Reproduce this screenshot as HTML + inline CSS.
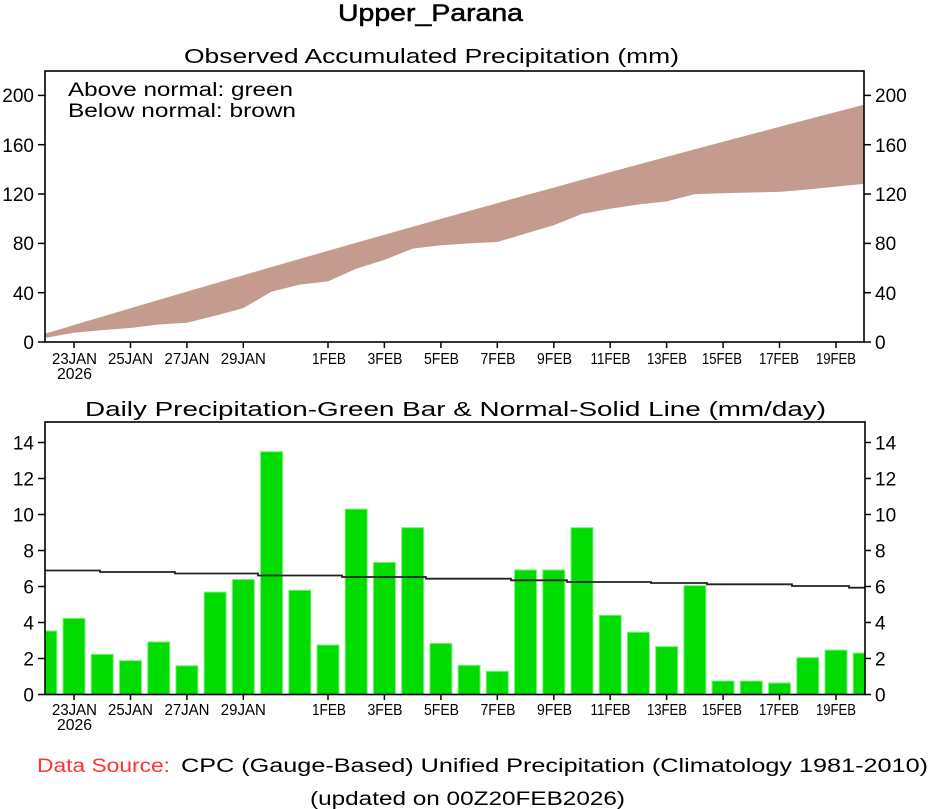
<!DOCTYPE html>
<html><head><meta charset="utf-8"><style>
html,body{margin:0;padding:0;background:#fff;}
svg{display:block;}
text{font-family:"Liberation Sans",sans-serif;fill:#000;}
</style></head><body>
<svg width="934" height="809" viewBox="0 0 934 809" xmlns="http://www.w3.org/2000/svg">
<rect x="0" y="0" width="934" height="809" fill="#fff"/>
<!-- Titles -->
<text x="338" y="21" font-size="24" textLength="185" lengthAdjust="spacingAndGlyphs" stroke="#000" stroke-width="0.5">Upper_Parana</text>
<text x="184" y="63" font-size="20" textLength="495" lengthAdjust="spacingAndGlyphs">Observed Accumulated Precipitation (mm)</text>

<!-- Top chart band -->
<defs>
<clipPath id="c1"><rect x="45" y="71" width="819" height="271"/></clipPath>
<clipPath id="c2"><rect x="45" y="422" width="820" height="273"/></clipPath>
</defs>
<g clip-path="url(#c1)">
<polygon fill="#c59b90" points="45,334 45.8,333.5 74.02,325 102.24,316.6 130.46,308.3 158.68,299.9 186.9,291.6 215.12,283.4 243.34,275.2 271.56,267 299.78,258.9 328,250.8 356.22,242.7 384.44,234.7 412.66,226.8 440.88,218.9 469.1,211 497.32,203.1 525.54,195.3 553.76,187.6 581.98,179.8 610.2,172.1 638.42,164.5 666.64,156.9 694.86,149.3 723.08,141.8 751.3,134.3 779.52,126.8 807.74,119.4 835.96,112 864.18,104.7 866,104.5 866,183.8 864.18,183.9 835.96,186.6 807.74,189.5 779.52,191.9 751.3,192.5 723.08,193.3 694.86,194.1 666.64,201.4 638.42,204.5 610.2,208.7 581.98,213.9 553.76,225.2 525.54,233.6 497.32,242 469.1,243.4 440.88,245.3 412.66,248.6 384.44,259.9 356.22,268.8 328,281.4 299.78,284.6 271.56,291.6 243.34,308.1 215.12,315.8 186.9,322.7 158.68,324.5 130.46,328 102.24,330.1 74.02,332.7 45.8,337.8 45,338.2"/>
</g>
<rect x="45" y="71" width="819" height="271" fill="none" stroke="#000" stroke-width="1.6"/>
<text x="68" y="96" font-size="19" textLength="225" lengthAdjust="spacingAndGlyphs">Above normal: green</text>
<text x="68" y="117" font-size="19" textLength="228" lengthAdjust="spacingAndGlyphs">Below normal: brown</text>

<!-- top y ticks -->
<g stroke="#000" stroke-width="1.5">
<line x1="38" y1="342" x2="45" y2="342"/><line x1="38" y1="292.7" x2="45" y2="292.7"/><line x1="38" y1="243.4" x2="45" y2="243.4"/><line x1="38" y1="194" x2="45" y2="194"/><line x1="38" y1="144.7" x2="45" y2="144.7"/><line x1="38" y1="95.4" x2="45" y2="95.4"/>
<line x1="864" y1="342" x2="871" y2="342"/><line x1="864" y1="292.7" x2="871" y2="292.7"/><line x1="864" y1="243.4" x2="871" y2="243.4"/><line x1="864" y1="194" x2="871" y2="194"/><line x1="864" y1="144.7" x2="871" y2="144.7"/><line x1="864" y1="95.4" x2="871" y2="95.4"/>
</g>
<g font-size="19" text-anchor="end">
<text x="34" y="349">0</text><text x="34" y="300">40</text><text x="34" y="250">80</text><text x="34" y="201">120</text><text x="34" y="152">160</text><text x="34" y="102">200</text>
</g>
<g font-size="19">
<text x="875" y="349">0</text><text x="875" y="300">40</text><text x="875" y="250">80</text><text x="875" y="201">120</text><text x="875" y="152">160</text><text x="875" y="102">200</text>
</g>
<!-- top x ticks -->
<g stroke="#000" stroke-width="1.5">
<line x1="74" y1="342" x2="74" y2="348"/><line x1="130.5" y1="342" x2="130.5" y2="348"/><line x1="186.9" y1="342" x2="186.9" y2="348"/><line x1="243.3" y1="342" x2="243.3" y2="348"/>
<line x1="328" y1="342" x2="328" y2="348"/><line x1="384.4" y1="342" x2="384.4" y2="348"/><line x1="440.9" y1="342" x2="440.9" y2="348"/><line x1="497.3" y1="342" x2="497.3" y2="348"/><line x1="553.8" y1="342" x2="553.8" y2="348"/><line x1="610.2" y1="342" x2="610.2" y2="348"/><line x1="666.6" y1="342" x2="666.6" y2="348"/><line x1="723.1" y1="342" x2="723.1" y2="348"/><line x1="779.5" y1="342" x2="779.5" y2="348"/><line x1="836" y1="342" x2="836" y2="348"/>
</g>
<g font-size="16" text-anchor="middle">
<text x="74.5" y="364" textLength="45" lengthAdjust="spacingAndGlyphs">23JAN</text>
<text x="74.5" y="379" textLength="35" lengthAdjust="spacingAndGlyphs">2026</text>
<text x="130.5" y="364" textLength="45" lengthAdjust="spacingAndGlyphs">25JAN</text>
<text x="187" y="364" textLength="45" lengthAdjust="spacingAndGlyphs">27JAN</text>
<text x="243.3" y="364" textLength="45" lengthAdjust="spacingAndGlyphs">29JAN</text>
<text x="329" y="364" textLength="34" lengthAdjust="spacingAndGlyphs">1FEB</text>
<text x="385" y="364" textLength="35" lengthAdjust="spacingAndGlyphs">3FEB</text>
<text x="441.5" y="364" textLength="35" lengthAdjust="spacingAndGlyphs">5FEB</text>
<text x="498" y="364" textLength="35" lengthAdjust="spacingAndGlyphs">7FEB</text>
<text x="554.5" y="364" textLength="35" lengthAdjust="spacingAndGlyphs">9FEB</text>
<text x="610.5" y="364" textLength="40" lengthAdjust="spacingAndGlyphs">11FEB</text>
<text x="667" y="364" textLength="40" lengthAdjust="spacingAndGlyphs">13FEB</text>
<text x="722" y="364" textLength="40" lengthAdjust="spacingAndGlyphs">15FEB</text>
<text x="779" y="364" textLength="40" lengthAdjust="spacingAndGlyphs">17FEB</text>
<text x="836" y="364" textLength="40" lengthAdjust="spacingAndGlyphs">19FEB</text>
</g>

<!-- Bottom chart -->
<text x="85" y="416" font-size="20" textLength="741" lengthAdjust="spacingAndGlyphs">Daily Precipitation-Green Bar &amp; Normal-Solid Line (mm/day)</text>
<g clip-path="url(#c2)" fill="#00dc00" stroke="#7ef07e" stroke-width="1">
<rect x="34.8" y="630.96" width="22" height="64"/>
<rect x="63.02" y="618.36" width="22" height="77"/>
<rect x="91.24" y="654.36" width="22" height="41"/>
<rect x="119.46" y="660.66" width="22" height="35"/>
<rect x="147.68" y="641.94" width="22" height="53"/>
<rect x="175.9" y="665.7" width="22" height="30"/>
<rect x="204.12" y="592.08" width="22" height="103"/>
<rect x="232.34" y="579.48" width="22" height="116"/>
<rect x="260.56" y="451.68" width="22" height="244"/>
<rect x="288.78" y="590.28" width="22" height="105"/>
<rect x="317" y="645" width="22" height="50"/>
<rect x="345.22" y="509.1" width="22" height="186"/>
<rect x="373.44" y="562.38" width="22" height="133"/>
<rect x="401.66" y="527.64" width="22" height="168"/>
<rect x="429.88" y="643.38" width="22" height="52"/>
<rect x="458.1" y="665.34" width="22" height="30"/>
<rect x="486.32" y="671.28" width="22" height="24"/>
<rect x="514.54" y="569.94" width="22" height="125"/>
<rect x="542.76" y="569.94" width="22" height="125"/>
<rect x="570.98" y="527.64" width="22" height="168"/>
<rect x="599.2" y="615.3" width="22" height="80"/>
<rect x="627.42" y="632.22" width="22" height="63"/>
<rect x="655.64" y="646.62" width="22" height="49"/>
<rect x="683.86" y="585.6" width="22" height="110"/>
<rect x="712.08" y="681" width="22" height="14"/>
<rect x="740.3" y="681" width="22" height="14"/>
<rect x="768.52" y="682.98" width="22" height="12"/>
<rect x="796.74" y="657.6" width="22" height="38"/>
<rect x="824.96" y="650.04" width="22" height="45"/>
<rect x="853.18" y="653.1" width="22" height="42"/>
</g>
<polyline fill="none" stroke="#222" stroke-width="1.8" points="45,570.5 100,570.5 100,572 175,572 175,573.5 258,573.5 258,575.5 342,575.5 342,577 426,577 426,578.7 511,578.7 511,580.3 567,580.3 567,582 651,582 651,583 707,583 707,584.3 792,584.3 792,586 849,586 849,587.7 865,587.7"/>
<rect x="45" y="422" width="820" height="272.5" fill="none" stroke="#000" stroke-width="1.6"/>
<g stroke="#000" stroke-width="1.5">
<line x1="38" y1="694.5" x2="45" y2="694.5"/><line x1="38" y1="658.5" x2="45" y2="658.5"/><line x1="38" y1="622.5" x2="45" y2="622.5"/><line x1="38" y1="586.5" x2="45" y2="586.5"/><line x1="38" y1="550.5" x2="45" y2="550.5"/><line x1="38" y1="514.5" x2="45" y2="514.5"/><line x1="38" y1="478.5" x2="45" y2="478.5"/><line x1="38" y1="442.5" x2="45" y2="442.5"/>
<line x1="865" y1="694.5" x2="871" y2="694.5"/><line x1="865" y1="658.5" x2="871" y2="658.5"/><line x1="865" y1="622.5" x2="871" y2="622.5"/><line x1="865" y1="586.5" x2="871" y2="586.5"/><line x1="865" y1="550.5" x2="871" y2="550.5"/><line x1="865" y1="514.5" x2="871" y2="514.5"/><line x1="865" y1="478.5" x2="871" y2="478.5"/><line x1="865" y1="442.5" x2="871" y2="442.5"/>
</g>
<g font-size="19" text-anchor="end">
<text x="34" y="701.5">0</text><text x="34" y="665.5">2</text><text x="34" y="629.5">4</text><text x="34" y="593.5">6</text><text x="34" y="557.5">8</text><text x="34" y="521.5">10</text><text x="34" y="485.5">12</text><text x="34" y="449.5">14</text>
</g>
<g font-size="19">
<text x="875" y="701.5">0</text><text x="875" y="665.5">2</text><text x="875" y="629.5">4</text><text x="875" y="593.5">6</text><text x="875" y="557.5">8</text><text x="875" y="521.5">10</text><text x="875" y="485.5">12</text><text x="875" y="449.5">14</text>
</g>
<g stroke="#000" stroke-width="1.5">
<line x1="74" y1="694.5" x2="74" y2="700"/><line x1="130.5" y1="694.5" x2="130.5" y2="700"/><line x1="186.9" y1="694.5" x2="186.9" y2="700"/><line x1="243.3" y1="694.5" x2="243.3" y2="700"/>
<line x1="328" y1="694.5" x2="328" y2="700"/><line x1="384.4" y1="694.5" x2="384.4" y2="700"/><line x1="440.9" y1="694.5" x2="440.9" y2="700"/><line x1="497.3" y1="694.5" x2="497.3" y2="700"/><line x1="553.8" y1="694.5" x2="553.8" y2="700"/><line x1="610.2" y1="694.5" x2="610.2" y2="700"/><line x1="666.6" y1="694.5" x2="666.6" y2="700"/><line x1="723.1" y1="694.5" x2="723.1" y2="700"/><line x1="779.5" y1="694.5" x2="779.5" y2="700"/><line x1="836" y1="694.5" x2="836" y2="700"/>
</g>
<g font-size="16" text-anchor="middle">
<text x="74.5" y="715" textLength="45" lengthAdjust="spacingAndGlyphs">23JAN</text>
<text x="74.5" y="730" textLength="35" lengthAdjust="spacingAndGlyphs">2026</text>
<text x="130.5" y="715" textLength="45" lengthAdjust="spacingAndGlyphs">25JAN</text>
<text x="187" y="715" textLength="45" lengthAdjust="spacingAndGlyphs">27JAN</text>
<text x="243.3" y="715" textLength="45" lengthAdjust="spacingAndGlyphs">29JAN</text>
<text x="329" y="715" textLength="34" lengthAdjust="spacingAndGlyphs">1FEB</text>
<text x="385" y="715" textLength="35" lengthAdjust="spacingAndGlyphs">3FEB</text>
<text x="441.5" y="715" textLength="35" lengthAdjust="spacingAndGlyphs">5FEB</text>
<text x="498" y="715" textLength="35" lengthAdjust="spacingAndGlyphs">7FEB</text>
<text x="554.5" y="715" textLength="35" lengthAdjust="spacingAndGlyphs">9FEB</text>
<text x="610.5" y="715" textLength="40" lengthAdjust="spacingAndGlyphs">11FEB</text>
<text x="667" y="715" textLength="40" lengthAdjust="spacingAndGlyphs">13FEB</text>
<text x="722" y="715" textLength="40" lengthAdjust="spacingAndGlyphs">15FEB</text>
<text x="779" y="715" textLength="40" lengthAdjust="spacingAndGlyphs">17FEB</text>
<text x="836" y="715" textLength="40" lengthAdjust="spacingAndGlyphs">19FEB</text>
</g>

<!-- Footer -->
<text x="37" y="772" font-size="19" fill="#ff3333" style="fill:#ff3333" textLength="133" lengthAdjust="spacingAndGlyphs">Data Source:</text>
<text x="181" y="772" font-size="19" textLength="747" lengthAdjust="spacingAndGlyphs">CPC (Gauge-Based) Unified Precipitation (Climatology 1981-2010)</text>
<text x="310" y="805" font-size="19" textLength="315" lengthAdjust="spacingAndGlyphs">(updated on 00Z20FEB2026)</text>
</svg>
</body></html>
